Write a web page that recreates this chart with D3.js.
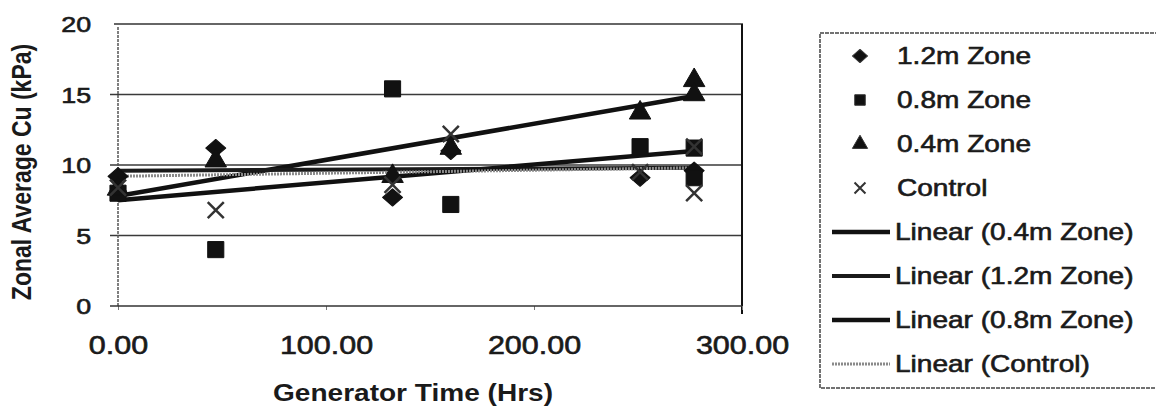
<!DOCTYPE html>
<html>
<head>
<meta charset="utf-8">
<script src="https://cdn.jsdelivr.net/npm/d3@7"></script>
<style>
  body { margin: 0; background: #fff; }
  text { font-family: "Liberation Sans", Arial, sans-serif; fill: #1a1a1a; }
  .heavy { stroke: #1a1a1a; stroke-width: 0.6px; }
</style>
</head>
<body>
<div id="chart"></div>
<script>
// values
const zone12Times = [0, 47, 132, 160, 251, 277];
const zone12Vals = [9.2, 11.2, 7.7, 11.0, 9.1, 9.6];
const zone08Times = [0, 47, 132, 160, 251, 277, 277];
const zone08Vals = [8.0, 4.0, 15.4, 7.2, 11.3, 11.2, 9.1];
const zone04Times = [0, 47, 132, 160, 251, 277, 277];
const zone04Vals = [8.3, 10.3, 9.2, 11.2, 13.7, 16.0, 15.0];
const controlTimes = [0, 47, 132, 160, 251, 277, 277];
const controlVals = [8.4, 6.8, 8.6, 12.2, 9.5, 11.3, 8.0];

// trend lines (value at first and last time)
const trendTimes = [0, 277];
const trendNames = ["Linear (0.4m Zone)", "Linear (1.2m Zone)", "Linear (0.8m Zone)", "Linear (Control)"];
const trendStart = [7.8, 9.6, 7.5, 9.2];
const trendEnd = [14.9, 9.8, 11.0, 9.8];

const markerNames = ["1.2m Zone", "0.8m Zone", "0.4m Zone", "Control"];
const xTicks = [0, 100, 200, 300];
const yTicks = [0, 5, 10, 15, 20];

const width = 1156, height = 409;
const sx = 1.22; // scan is stretched horizontally

const svg = d3.select("#chart").append("svg")
  .attr("width", width)
  .attr("height", height);

const x = d3.scaleLinear().domain([0, 300]).range([118, 742]);
const y = d3.scaleLinear().domain([0, 20]).range([306, 24]);

// gridlines
svg.append("g")
  .selectAll("line")
  .data(yTicks.filter(d => d > 0 && d < 20))
  .enter().append("line")
  .attr("x1", 110).attr("x2", x(300))
  .attr("y1", d => y(d)).attr("y2", d => y(d))
  .style("stroke", "#3a3a3a")
  .style("stroke-width", 1.6);

// plot frame: top and right
svg.append("line")
  .attr("x1", 114).attr("x2", x(300) + 1)
  .attr("y1", y(20)).attr("y2", y(20))
  .style("stroke", "#333").style("stroke-width", 1.6);
svg.append("line")
  .attr("x1", x(300)).attr("x2", x(300))
  .attr("y1", y(20)).attr("y2", y(0) + 8)
  .style("stroke", "#111").style("stroke-width", 2);

// left axis (dotted in scan)
svg.append("line")
  .attr("x1", x(0)).attr("x2", x(0))
  .attr("y1", y(20) + 3).attr("y2", y(0))
  .style("stroke", "#555").style("stroke-width", 1.5)
  .style("stroke-dasharray", "3,1");

// bottom axis
const xAxis = svg.append("g")
  .attr("transform", `translate(0,${y(0)})`)
  .call(d3.axisBottom(x).tickValues(xTicks).tickSize(4).tickFormat(d3.format(".2f")));
xAxis.select(".domain").remove();
xAxis.selectAll(".tick line").style("stroke", "#777");
xAxis.selectAll(".tick text")
  .attr("class", "heavy")
  .attr("y", 30)
  .attr("transform", `scale(${sx},1)`)
  .style("font-size", "25px");
svg.append("line")
  .attr("x1", 110).attr("x2", x(300))
  .attr("y1", y(0)).attr("y2", y(0))
  .style("stroke", "#333").style("stroke-width", 1.6);

// left tick labels
const yAxis = svg.append("g")
  .attr("transform", `translate(${x(0)},0)`)
  .call(d3.axisLeft(y).tickValues(yTicks).tickSize(0));
yAxis.select(".domain").remove();
yAxis.selectAll(".tick text")
  .attr("class", "heavy")
  .attr("x", -22)
  .attr("dy", "0.36em")
  .attr("transform", `scale(${sx},1)`)
  .style("font-size", "22px");

// axis titles
svg.append("text")
  .attr("transform", `translate(413,401) scale(${sx},1)`)
  .attr("text-anchor", "middle")
  .style("font-size", "23px")
  .style("font-weight", "bold")
  .text("Generator Time (Hrs)");

svg.append("text")
  .attr("transform", `translate(31,172) scale(${sx},1) rotate(-90)`)
  .attr("text-anchor", "middle")
  .style("font-size", "23px")
  .style("font-weight", "bold")
  .text("Zonal Average Cu (kPa)");

// trend lines
const trendStyles = [
  { stroke: "#111", width: 4.5, dash: null },
  { stroke: "#1a1a1a", width: 4, dash: null },
  { stroke: "#111", width: 4.5, dash: null },
  { stroke: "#8a8a8a", width: 3, dash: "2,1" }
];
const line = d3.line().x(d => x(d[0])).y(d => y(d[1]));

trendNames.forEach((name, i) => {
  svg.append("path")
    .datum([[trendTimes[0], trendStart[i]], [trendTimes[1], trendEnd[i]]])
    .attr("d", line)
    .style("fill", "none")
    .style("stroke", trendStyles[i].stroke)
    .style("stroke-width", trendStyles[i].width)
    .style("stroke-dasharray", trendStyles[i].dash);
});

// markers
const sym = {
  diamond: d3.symbol().type(d3.symbolDiamond2),
  square: d3.symbol().type(d3.symbolSquare),
  triangle: d3.symbol().type(d3.symbolTriangle),
  cross: d3.symbol().type(d3.symbolX)
};
const shapeScale = { diamond: "scale(1.15,1)", square: "", triangle: "", cross: "" };

const series = [
  { t: zone12Times, v: zone12Vals, shape: "diamond", size: 190 },
  { t: zone08Times, v: zone08Vals, shape: "square", size: 260 },
  { t: zone04Times, v: zone04Vals, shape: "triangle", size: 200 },
  { t: controlTimes, v: controlVals, shape: "cross", size: 170 }
];

series.forEach(s => {
  const pts = s.t.map((t, i) => [t, s.v[i]]);
  svg.append("g")
    .selectAll("path")
    .data(pts)
    .enter().append("path")
    .attr("transform", d => `translate(${x(d[0])},${y(d[1])}) ${shapeScale[s.shape]}`)
    .attr("d", sym[s.shape].size(s.size))
    .style("fill", s.shape === "cross" ? "none" : "#111")
    .style("stroke", s.shape === "cross" ? "#333" : "#111")
    .style("stroke-width", s.shape === "cross" ? 2.5 : 1)
    .style("stroke-linejoin", "round");
});

// legend
const legend = svg.append("g");
legend.append("rect")
  .attr("x", 820).attr("y", 33)
  .attr("width", 360).attr("height", 355)
  .style("fill", "none")
  .style("stroke", "#444")
  .style("stroke-width", 1.5)
  .style("stroke-dasharray", "4,1");

const rowY = d3.scaleLinear().domain([0, 7]).range([56, 364]);
const legendShapes = ["diamond", "square", "triangle", "cross"];
const legendSizes = [110, 110, 100, 80];

markerNames.forEach((name, i) => {
  legend.append("path")
    .attr("transform", `translate(860,${rowY(i)}) ${shapeScale[legendShapes[i]]}`)
    .attr("d", sym[legendShapes[i]].size(legendSizes[i]))
    .style("fill", legendShapes[i] === "cross" ? "none" : "#111")
    .style("stroke", "#333")
    .style("stroke-width", legendShapes[i] === "cross" ? 2 : 1)
    .style("stroke-linejoin", "round");
  legend.append("text")
    .attr("class", "heavy")
    .attr("transform", `translate(897,${rowY(i)}) scale(${sx},1)`)
    .attr("dy", "0.36em")
    .style("font-size", "23px")
    .text(name);
});

trendNames.forEach((name, i) => {
  const yy = rowY(i + 4);
  legend.append("line")
    .attr("x1", 832).attr("x2", 890)
    .attr("y1", yy).attr("y2", yy)
    .style("stroke", trendStyles[i].stroke)
    .style("stroke-width", trendStyles[i].width)
    .style("stroke-dasharray", trendStyles[i].dash);
  legend.append("text")
    .attr("class", "heavy")
    .attr("transform", `translate(895,${yy}) scale(${sx},1)`)
    .attr("dy", "0.36em")
    .style("font-size", "23px")
    .text(name);
});
</script>
</body>
</html>
